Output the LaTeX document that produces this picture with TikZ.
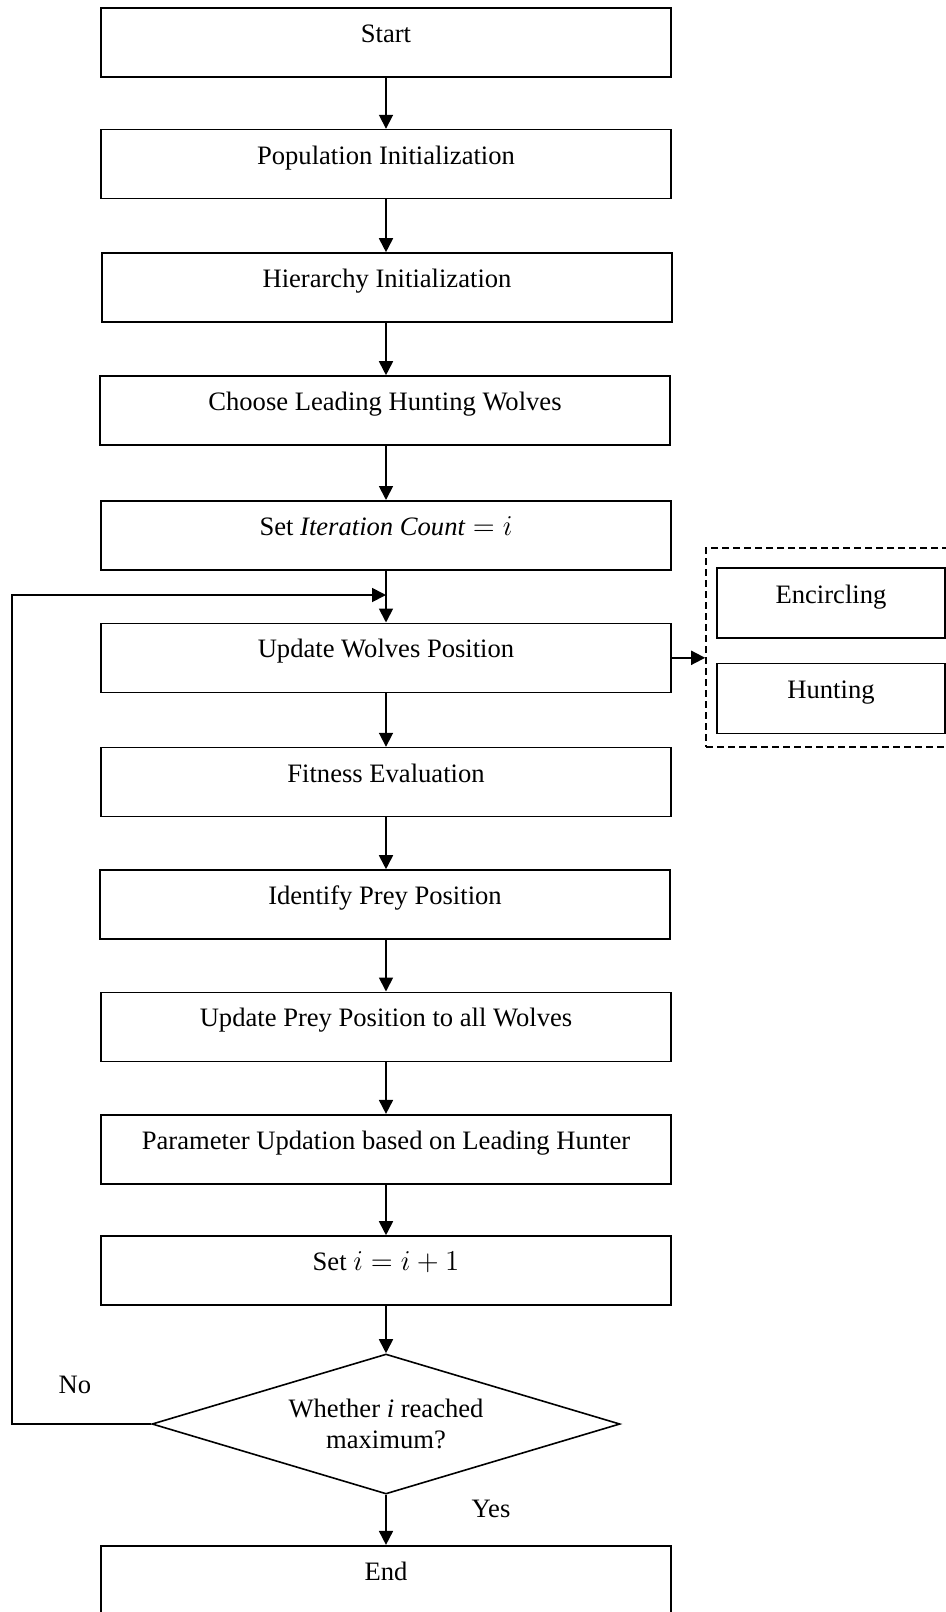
\documentclass[tikz,border=0pt]{standalone}
\usepackage{fontspec}
\setmainfont{Liberation Serif}
\usetikzlibrary{shapes.geometric,arrows.meta}
\begin{document}
\begin{tikzpicture}[x=0.5pt,y=-0.5pt,
  font=\fontsize{13.3}{15.4}\selectfont,
  proc/.style={draw,line width=0.8pt,minimum width=285pt,minimum height=34.5pt,inner sep=0pt,text height=1em,text depth=1em,anchor=center},
  sub/.style={proc,minimum width=114pt,minimum height=35pt},
  grpbox/.style={draw,line width=0.8pt,dash pattern=on 3.3pt off 2.2pt,minimum width=132pt,minimum height=99.5pt,inner sep=0pt},
  dec/.style={draw,diamond,line width=0.8pt,minimum width=234pt,minimum height=70pt,inner sep=0pt,shape aspect=3.3,align=center},
  arr/.style={line width=0.9pt,-{Triangle[length=7pt,width=7pt]}},
  lbl/.style={inner sep=0pt}]
\useasboundingbox (0,0) rectangle (946,1612);
\node[proc] (start) at (386,42.7) {Start};
\node[proc] (pop) at (386,164.1) {Population Initialization};
\node[proc] (hier) at (387,287.5) {Hierarchy Initialization};
\node[proc] (choose) at (385,410.5) {Choose Leading Hunting Wolves};
\node[proc] (setit) at (386,535.3) {Set $\mathit{Iteration\ Count} = i$};
\node[proc] (upd) at (386,657.8) {Update Wolves Position};
\node[proc] (fit) at (386,782.1) {Fitness Evaluation};
\node[proc] (ident) at (385,904.5) {Identify Prey Position};
\node[proc] (uprey) at (386,1026.8) {Update Prey Position to all Wolves};
\node[proc] (param) at (386,1149.2) {Parameter Updation based on Leading Hunter};
\node[proc] (seti) at (386,1270.5) {Set $i = i + 1$};
\node[dec] (dia) at (386,1424) {Whether \textit{i} reached\\maximum?};
\node[proc] (endn) at (386,1580.2) {End};
\node[grpbox] (grp) at (838,647.5) {};
\node[sub] (enc) at (831,603) {Encircling};
\node[sub] (hunt) at (831,698.5) {Hunting};
\coordinate (loopin) at (386,595);
\coordinate (loopcorner) at (12,1424);
\node[lbl] (no) at (75,1385) {No};
\node[lbl] (yes) at (491,1509) {Yes};
\draw[arr] (start) -- (pop);
\draw[arr] (pop) -- (hier.north -| pop.south);
\draw[arr] (hier.south -| pop.south) -- (choose.north -| pop.south);
\draw[arr] (choose.south -| pop.south) -- (setit);
\draw[arr] (setit) -- (upd);
\draw[arr] (upd) -- (fit);
\draw[arr] (fit) -- (ident.north -| fit.south);
\draw[arr] (ident.south -| fit.south) -- (uprey);
\draw[arr] (uprey) -- (param);
\draw[arr] (param) -- (seti);
\draw[arr] (seti) -- (dia);
\draw[arr] (dia) -- (endn);
\draw[arr] (dia.west) -- (loopcorner) |- (loopin);
\draw[arr] (upd.east) -- (upd.east -| grp.west);
\end{tikzpicture}
\end{document}
